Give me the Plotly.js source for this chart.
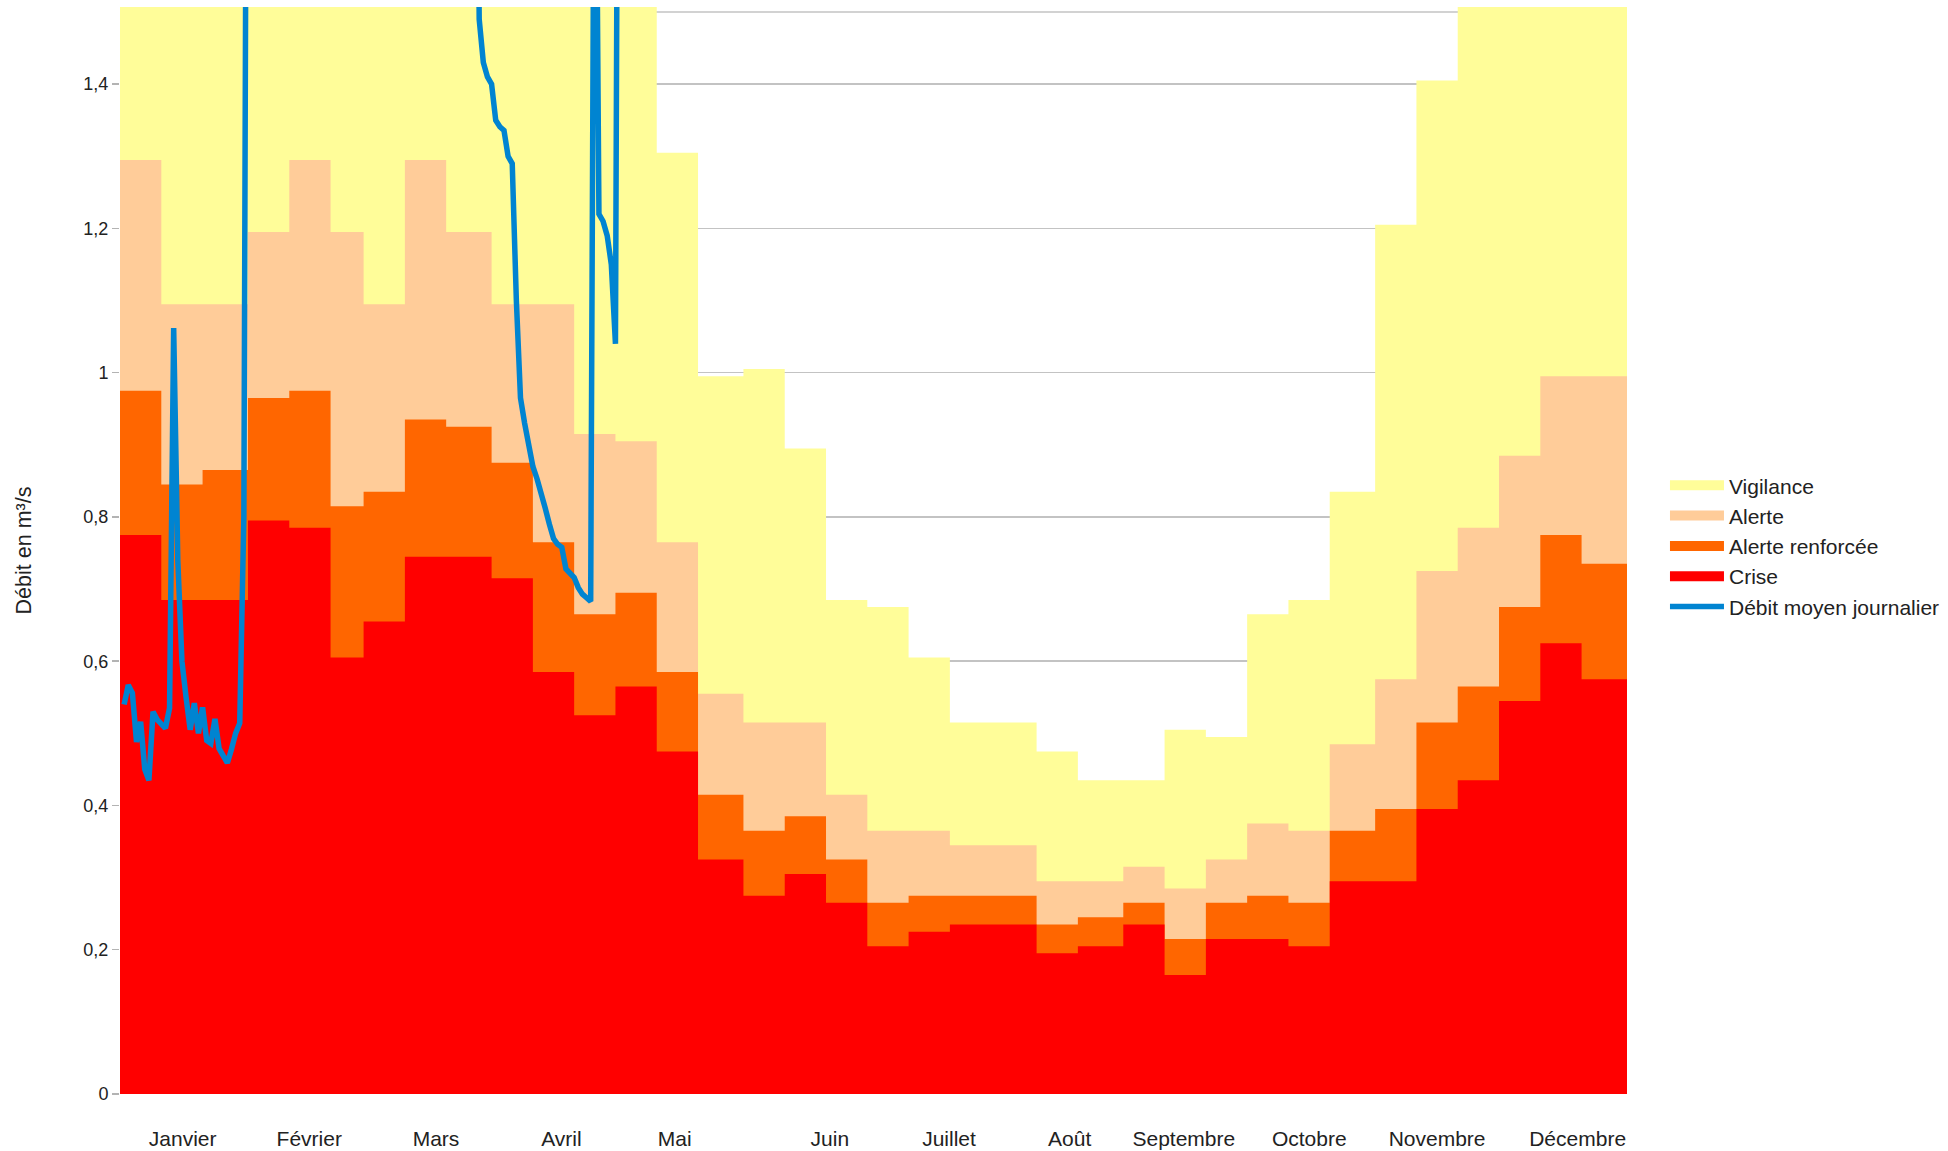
<!DOCTYPE html>
<html>
<head>
<meta charset="utf-8">
<script src="https://cdn.plot.ly/plotly-3.0.1.min.js"></script>
<style>html,body{margin:0;padding:0;background:#fff;}</style>
</head>
<body>
<div id="chart" style="width:1948px;height:1151px;"></div>
<script>
// ---------- data ----------
const year = 2023;
const monthLabels = ['Janvier','Février','Mars','Avril','Mai','Juin','Juillet','Août','Septembre','Octobre','Novembre','Décembre'];
const monthLabelDates = ['2023-01-16 04:00','2023-02-15 20:00','2023-03-18 13:00','2023-04-17 22:00','2023-05-15 08:00','2023-06-21 22:00','2023-07-20 19:00','2023-08-19 00:00','2023-09-15 16:00','2023-10-16 01:00','2023-11-16 00:00','2023-12-20 01:00'];
const decadeStartDays = [1, 11, 21];

const yTickVals = [0, 0.2, 0.4, 0.6, 0.8, 1, 1.2, 1.4];
const yTickText = ['0', '0,2', '0,4', '0,6', '0,8', '1', '1,2', '1,4'];

// thresholds per decade (3 per month, Jan -> Dec), m3/s
const vigilance = [1.6,1.6,1.6, 1.6,1.6,1.6, 1.6,1.6,1.6, 1.6,1.6,1.6, 1.6,1.305,0.995, 1.005,0.895,0.685, 0.675,0.605,0.515, 0.515,0.475,0.435, 0.435,0.505,0.495, 0.665,0.685,0.835, 1.205,1.405,1.6, 1.6,1.6,1.6];
const alerte = [1.295,1.095,1.095, 1.195,1.295,1.195, 1.095,1.295,1.195, 1.095,1.095,0.915, 0.905,0.765,0.555, 0.515,0.515,0.415, 0.365,0.365,0.345, 0.345,0.295,0.295, 0.315,0.285,0.325, 0.375,0.365,0.485, 0.575,0.725,0.785, 0.885,0.995,0.995];
const alerteRenforcee = [0.975,0.845,0.865, 0.965,0.975,0.815, 0.835,0.935,0.925, 0.875,0.765,0.665, 0.695,0.585,0.415, 0.365,0.385,0.325, 0.265,0.275,0.275, 0.275,0.235,0.245, 0.265,0.215,0.265, 0.275,0.265,0.365, 0.395,0.515,0.565, 0.675,0.775,0.735];
const crise = [0.775,0.685,0.685, 0.795,0.785,0.605, 0.655,0.745,0.745, 0.715,0.585,0.525, 0.565,0.475,0.325, 0.275,0.305,0.265, 0.205,0.225,0.235, 0.235,0.195,0.205, 0.235,0.165,0.215, 0.215,0.205,0.295, 0.295,0.395,0.435, 0.545,0.625,0.575];

// daily mean flow, one value per day (values above 1.5 leave the chart)
const flowJanStart = [2023, 0, 1];     // 1 Jan -> 31 Jan
const flowJan = [0.54,0.567,0.556,0.488,0.516,0.45,0.435,0.53,0.519,0.514,0.507,0.535,1.062,0.74,0.60,0.55,0.505,0.542,0.50,0.536,0.49,0.486,0.52,0.479,0.47,0.459,0.478,0.50,0.514,0.80,2.5];
const flowSpringStart = [2023, 2, 27]; // 27 Mar -> 1 May
const flowSpring = [2.2,1.49,1.43,1.41,1.40,1.35,1.341,1.336,1.30,1.29,1.10,0.965,0.93,0.90,0.87,0.853,0.835,0.812,0.79,0.77,0.762,0.758,0.728,0.723,0.716,0.702,0.693,0.688,0.683,2.0,1.22,1.21,1.19,1.15,1.04,2.5];

// ---------- build ----------
function isoDay(y, m, d, h) {
  return new Date(Date.UTC(y, m, d, h || 0)).toISOString().replace('T', ' ').slice(0, 19);
}
const decadeDates = [];
for (let m = 0; m < 12; m++) for (const d of decadeStartDays) decadeDates.push(isoDay(year, m, d));
const stepX = decadeDates.concat([isoDay(year + 1, 0, 1)]);
const ext = a => a.concat([a[a.length - 1]]);

// each daily value is placed at the end of its day
function daily(start, vals) {
  return vals.map((v, i) => isoDay(start[0], start[1], start[2] + i, 24));
}
const flowX = daily(flowJanStart, flowJan).concat([null], daily(flowSpringStart, flowSpring));
const flowY = flowJan.concat([null], flowSpring);

const colors = {vig: '#FFFD99', al: '#FFCC99', ar: '#FF6600', cr: '#FF0000', flow: '#0084D1'};

function area(name, vals, color) {
  return {
    type: 'scatter', mode: 'lines', name: name, showlegend: false,
    x: stepX, y: ext(vals),
    line: {shape: 'hv', width: 0, color: color},
    fill: 'tozeroy', fillcolor: color, hoverinfo: 'skip'
  };
}
function legendSwatch(name, color) {
  return {
    type: 'scatter', mode: 'lines', name: name, legendgroup: name,
    x: [null], y: [null], line: {color: color, width: 13}, hoverinfo: 'skip'
  };
}

const traces = [
  area('Vigilance', vigilance, colors.vig),
  area('Alerte', alerte, colors.al),
  area('Alerte renforcée', alerteRenforcee, colors.ar),
  area('Crise', crise, colors.cr),
  legendSwatch('Vigilance', colors.vig),
  legendSwatch('Alerte', colors.al),
  legendSwatch('Alerte renforcée', colors.ar),
  legendSwatch('Crise', colors.cr),
  {
    type: 'scatter', mode: 'lines', name: 'Débit moyen journalier', legendgroup: 'debit',
    x: flowX, y: flowY, connectgaps: false,
    line: {color: colors.flow, width: 5.5}, hoverinfo: 'skip'
  }
];

const gridColor = '#c3c3c3';
const layout = {
  width: 1948, height: 1151,
  margin: {l: 120, r: 321, t: 7, b: 57, pad: 0, autoexpand: false},
  paper_bgcolor: '#ffffff', plot_bgcolor: '#ffffff',
  font: {family: '"Liberation Sans", Arial, sans-serif', color: '#222', size: 21},
  showlegend: true,
  legend: {
    x: 1.0252, xanchor: 'left', y: 0.504, yanchor: 'middle',
    font: {size: 21, color: '#222'}, tracegroupgap: 5, itemwidth: 54,
    bgcolor: 'rgba(0,0,0,0)', traceorder: 'normal'
  },
  xaxis: {
    type: 'date', range: [isoDay(year, 0, 1), isoDay(year + 1, 0, 1)],
    tickmode: 'array', tickvals: monthLabelDates, ticktext: monthLabels,
    showgrid: false, zeroline: false, showline: false, ticks: '',
    ticklabelstandoff: 30, tickfont: {size: 21, color: '#222'}, automargin: false
  },
  yaxis: {
    range: [0, 1.507], tickmode: 'array', tickvals: yTickVals, ticktext: yTickText,
    ticks: 'outside', ticklen: 7, tickcolor: '#b3b3b3', tickwidth: 1.5,
    showgrid: true, gridcolor: gridColor, gridwidth: 1.5,
    zeroline: false, showline: false,
    tickfont: {size: 18, color: '#222'},
    title: {text: 'Débit en m³/s', font: {size: 21.5, color: '#222'}, standoff: 45},
    automargin: false
  },
  shapes: [{
    type: 'line', xref: 'paper', x0: 0, x1: 1, yref: 'y', y0: 1.5, y1: 1.5,
    line: {color: gridColor, width: 1.5}, layer: 'below'
  }]
};

Plotly.newPlot('chart', traces, layout, {staticPlot: true, displayModeBar: false});
</script>
</body>
</html>
